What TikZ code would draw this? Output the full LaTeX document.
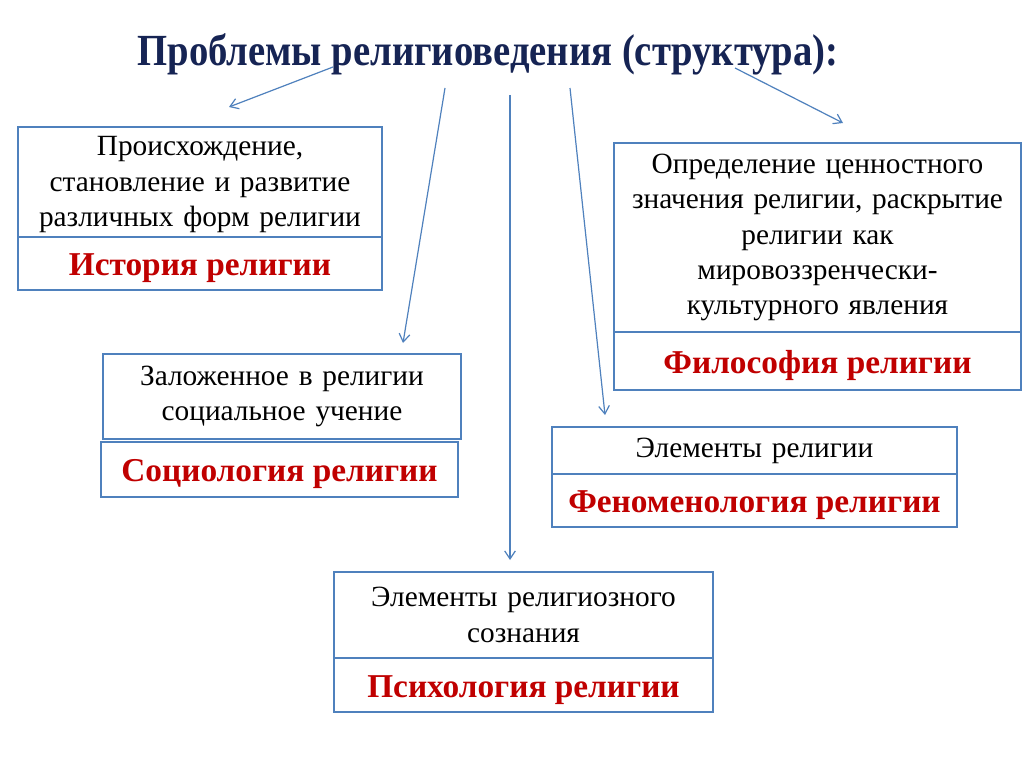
\documentclass[tikz,border=0pt]{standalone}
\usepackage{fontspec}
\setmainfont{Liberation Serif}
\usetikzlibrary{arrows.meta}
\definecolor{boxblue}{RGB}{79,129,189}
\definecolor{labred}{RGB}{192,0,0}
\definecolor{titleblue}{RGB}{22,36,84}
\newcommand{\lowlab}[1]{\raisebox{-3.5pt}[\height][\depth]{#1}}
\newcommand{\lowtxt}[1]{\raisebox{-2pt}[\height][\depth]{#1}}
\tikzset{
  box/.style={draw=boxblue, line width=1.9pt, fill=white, inner sep=0pt, align=center, font=\fontsize{22}{26.5}\selectfont},
  lab/.style={box, text=labred, font=\fontsize{25}{28}\selectfont\bfseries},
  conn/.style={draw=boxblue, line width=0.9pt, -{Straight Barb[length=6pt,width=8pt]}}
}
\begin{document}
\begin{tikzpicture}[x=0.75pt,y=-0.75pt]
\useasboundingbox (0,0) rectangle (1024,767);
\fill[white] (0,0) rectangle (1024,767);
\node[anchor=base, inner sep=0pt, font=\fontsize{29}{34}\selectfont\bfseries, text=titleblue] (title) at (488,65) {\scalebox{1}[1.15]{Проблемы религиоведения (структура):}};
% History
\node[box, minimum width=273pt, minimum height=82.5pt, text width=265pt] (histt) at (200,182) {\lowtxt{\parbox{265pt}{\centering Происхождение,\\становление и развитие\\различных форм религии}}};
\node[lab, minimum width=273pt, minimum height=39.75pt] (histb) at (200,263.5) {\lowlab{История религии}};
% Philosophy
\node[box, minimum width=305.25pt, minimum height=141.75pt, text width=300pt] (phit) at (817.5,237.5) {Определение ценностного\\значения религии, раскрытие\\религии как\\мировоззренчески-\\культурного явления};
\node[lab, minimum width=305.25pt, minimum height=43.5pt] (phib) at (817.5,361) {\lowlab{Философия религии}};
% Sociology
\node[box, minimum width=268.5pt, minimum height=63.75pt, text width=260pt] (soct) at (282,396.5) {Заложенное в религии\\социальное учение};
\node[lab, minimum width=267.75pt, minimum height=41.25pt] (socb) at (279.5,469.5) {\lowlab{Социология религии}};
% Phenomenology
\node[box, minimum width=303.75pt, minimum height=35.25pt, text width=295pt] (phent) at (754.5,450.5) {Элементы религии};
\node[lab, minimum width=303.75pt, minimum height=39.75pt] (phenb) at (754.5,500.5) {\lowlab{Феноменология религии}};
% Psychology
\node[box, minimum width=284.25pt, minimum height=64.5pt, text width=275pt] (psyt) at (523.5,615) {Элементы религиозного\\сознания};
\node[lab, minimum width=284.25pt, minimum height=40.5pt] (psyb) at (523.5,685) {\lowlab{Психология религии}};
% arrows
\coordinate (s1) at (333,67); \coordinate (e1) at (229,107);
\coordinate (s2) at (445,88); \coordinate (e2) at (403,343);
\coordinate (s3) at (510,95); \coordinate (e3) at (510,560);
\coordinate (s4) at (570,88); \coordinate (e4) at (605,415);
\coordinate (s5) at (735,68); \coordinate (e5) at (843,123);
\draw[conn] (s1) -- (e1);
\draw[conn] (s2) -- (e2);
\draw[conn] (s3) -- (e3);
\draw[conn] (s4) -- (e4);
\draw[conn] (s5) -- (e5);
\end{tikzpicture}
\end{document}
